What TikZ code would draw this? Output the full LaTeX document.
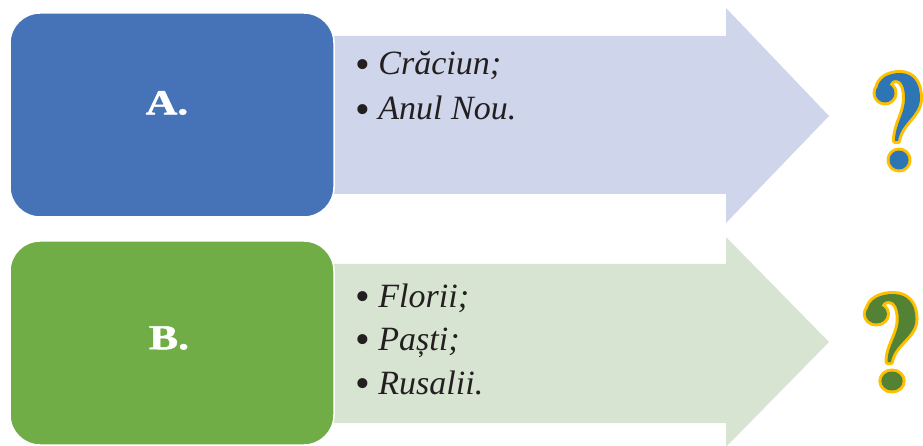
\documentclass[tikz,border=0pt]{standalone}
\usepackage{fontspec}
\setmainfont{Liberation Serif}
\newfontfamily\labfont{Liberation Serif}[FakeStretch=1.25,FakeBold=1.5]
\definecolor{boxblue}{RGB}{70,114,184}
\definecolor{boxgreen}{RGB}{112,173,71}
\definecolor{arrblue}{RGB}{207,213,234}
\definecolor{arrgreen}{RGB}{216,228,210}
\definecolor{qblue}{RGB}{46,117,182}
\definecolor{qgreen}{RGB}{84,130,53}
\definecolor{qyellow}{RGB}{255,192,0}
\definecolor{txt}{RGB}{35,31,32}
\newcommand\bul{\raisebox{-3.5pt}{\fontsize{42}{45}\selectfont•}}
\tikzset{
  bigbox/.style={draw=white, line width=1.5pt, rounded corners=30pt,
    minimum width=324pt, minimum height=204pt, inner sep=0pt},
  boxlabel/.style={text=white, font=\labfont\bfseries\fontsize{35}{35}\selectfont, inner sep=0pt},
  item/.style={text=txt, font=\fontsize{34}{45}\selectfont, anchor=base west, inner sep=0pt},
  qmark/.pic={
    \filldraw[qyellow, line width=6pt, line join=round]
      (-14,-67) circle[radius=9.5] (0,0) circle[radius=9.5]
      (-22,-70) .. controls (-21,-82) and (-10,-87) .. (1,-87)
      .. controls (14,-87) and (21,-77) .. (21,-62)
      .. controls (21,-44) and (2,-38) .. (-1,-19) -- (-4,-19)
      .. controls (-4,-36) and (6,-46) .. (6,-62)
      .. controls (6,-74) and (2,-80) .. (-3,-80)
      .. controls (-7,-80) and (-9,-77) .. (-10,-74) -- cycle;
    \fill[#1]
      (-14,-67) circle[radius=9.5] (0,0) circle[radius=9.5]
      (-22,-70) .. controls (-21,-82) and (-10,-87) .. (1,-87)
      .. controls (14,-87) and (21,-77) .. (21,-62)
      .. controls (21,-44) and (2,-38) .. (-1,-19) -- (-4,-19)
      .. controls (-4,-36) and (6,-46) .. (6,-62)
      .. controls (6,-74) and (2,-80) .. (-3,-80)
      .. controls (-7,-80) and (-9,-77) .. (-10,-74) -- cycle;
  }
}
\begin{document}
\begin{tikzpicture}[x=1pt,y=-1pt]
\useasboundingbox (0,0) rectangle (923,446);
% arrows
\fill[arrblue] (320,36) -- (726,36) -- (726,8) -- (829,116) -- (726,223) -- (726,194) -- (320,194) -- cycle;
\fill[arrgreen] (320,264) -- (726,264) -- (726,237) -- (829,342) -- (726,447) -- (726,423) -- (320,423) -- cycle;
% boxes
\node[bigbox, fill=boxblue] (boxA) at (172,115) {};
\node[bigbox, fill=boxgreen] (boxB) at (172,343) {};
\node[boxlabel] (labA) at (167,103) {A.};
\node[boxlabel] (labB) at (169,338) {B.};
% items
\node[item] (a1) at (355,75) {\bul\ \textit{Crăciun;}};
\node[item] (a2) at (355,120) {\bul\ \textit{Anul Nou.}};
\node[item] (b1) at (355,307) {\bul\ \textit{Florii;}};
\node[item] (b2) at (355,350) {\bul\ \textit{Paști;}};
\node[item] (b3) at (355,394) {\bul\ \textit{Rusalii.}};
% question marks
\pic at (899,160) {qmark=qblue};
\pic[xscale=1.12] at (892,381) {qmark=qgreen};
\end{tikzpicture}
\end{document}
